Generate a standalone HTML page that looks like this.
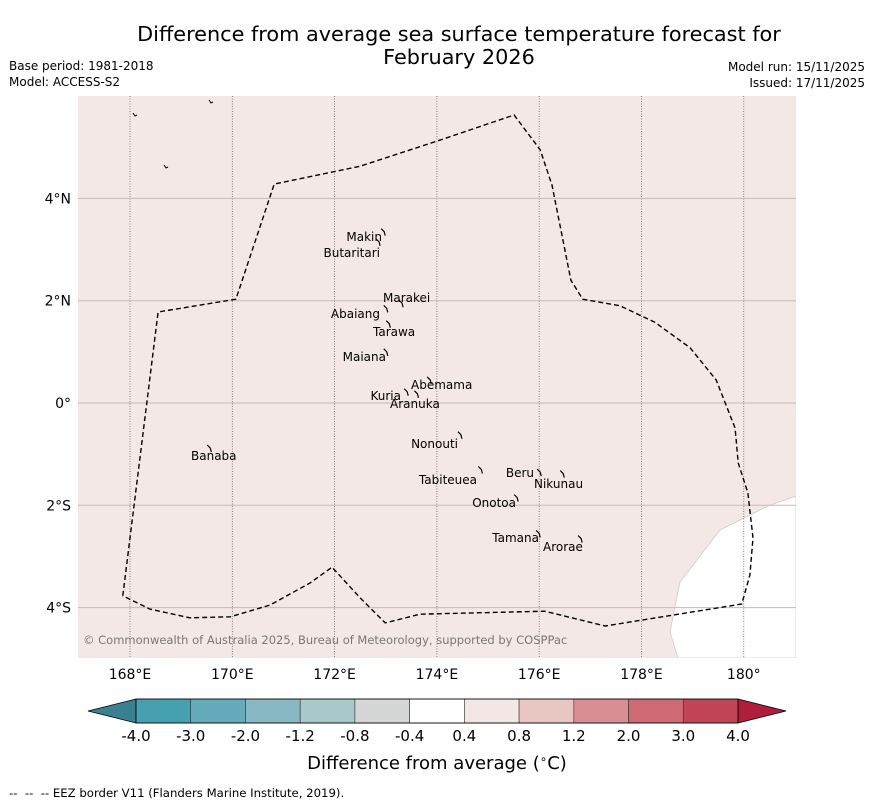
<!DOCTYPE html>
<html><head><meta charset="utf-8"><style>
body{margin:0;background:#fff;font-family:"DejaVu Sans","Liberation Sans",sans-serif}
svg text{font-family:"DejaVu Sans","Liberation Sans",sans-serif}
</style></head><body>
<svg id="c" width="873" height="804" xmlns="http://www.w3.org/2000/svg">
<text x="459" y="41" font-size="20.8" text-anchor="middle">Difference from average sea surface temperature forecast for</text>
<text x="459" y="64" font-size="20.8" text-anchor="middle">February 2026</text>
<text x="9" y="70" font-size="12">Base period: 1981-2018</text>
<text x="9" y="86" font-size="12">Model: ACCESS-S2</text>
<text x="865" y="71" font-size="12" text-anchor="end">Model run: 15/11/2025</text>
<text x="865" y="87" font-size="12" text-anchor="end">Issued: 17/11/2025</text>
<g id="map"></g>
<g id="cbar"></g>
<text x="437" y="769" font-size="18" text-anchor="middle">Difference from average (<tspan font-size="12" dy="-6">∘</tspan><tspan dy="6">C)</tspan></text>
<text x="9" y="797" font-size="11.7" xml:space="preserve">--  --  -- EEZ border V11 (Flanders Marine Institute, 2019).</text>
</svg>
<script>
const lonTicks=[168,170,172,174,176,178,180];
const lonLabels=["168°E","170°E","172°E","174°E","176°E","178°E","180°"];
const latTicks=[4,2,0,-2,-4];
const latLabels=["4°N","2°N","0°","2°S","4°S"];
const eezLon=[167.86,168.55,170.07,170.82,172.50,174.06,175.51,176.02,176.25,176.62,176.85,177.58,178.26,178.95,179.46,179.83,179.89,180.08,180.18,180.12,179.96,177.29,176.11,173.67,172.99,172.50,171.95,171.52,170.74,169.96,169.17,168.39,167.86];
const eezLat=[-3.77,1.78,2.03,4.28,4.63,5.14,5.63,4.95,4.26,2.40,2.03,1.90,1.58,1.08,0.45,-0.49,-1.17,-1.76,-2.64,-3.36,-3.93,-4.36,-4.07,-4.13,-4.30,-3.81,-3.21,-3.52,-3.95,-4.18,-4.20,-4.03,-3.77];
const cbLevels=["-4.0","-3.0","-2.0","-1.2","-0.8","-0.4","0.4","0.8","1.2","2.0","3.0","4.0"];
const cbColors=["#45a0b0","#66abb9","#88b8c4","#a8c8cc","#d5d7d6","#ffffff","#f5e6e6","#e8c6c2","#d88e94","#cd6a73","#c24555"];
const islandNames=["Makin","Butaritari","Marakei","Abaiang","Tarawa","Maiana","Abemama","Kuria","Aranuka","Nonouti","Banaba","Beru","Nikunau","Tabiteuea","Onotoa","Tamana","Arorae"];
const islandLon=[172.95,172.85,173.30,173.00,173.05,173.00,173.85,173.40,173.60,174.45,169.55,176.00,176.45,174.85,175.55,175.98,176.80];
const islandLat=[3.35,3.15,1.95,1.85,1.55,1.00,0.45,0.22,0.18,-0.62,-0.88,-1.35,-1.38,-1.30,-1.85,-2.55,-2.65];
const labX=[382,380,383,380,373,386,411,401,390,458,191,534,534,477,516,539,543];
const labY=[237,253,298,314,332,357,385,396,404,444,456,473,484,480,503,538,547];
const labAnchor=["end","end","start","end","start","end","start","end","start","end","start","end","start","end","end","end","start"];
const NS="http://www.w3.org/2000/svg";
const X0=78,X1=796,Y0=96,Y1=658;
const x=lon=>130+(lon-168)*51.15, y=lat=>403-lat*51.15;
function el(t,a,p){const e=document.createElementNS(NS,t);for(const k in a)e.setAttribute(k,a[k]);p.appendChild(e);return e;}
const map=document.getElementById('map');
const defs=el('defs',{},map);const cp=el('clipPath',{id:'clip'},defs);el('rect',{x:X0,y:Y0,width:X1-X0,height:Y1-Y0},cp);
const bg=el('rect',{x:X0,y:Y0,width:X1-X0,height:Y1-Y0,fill:'#f4e8e7'},map);


const g=el('g',{'clip-path':'url(#clip)'},map);
const wp=el('path',{d:'M796,496 L768,506 L720,530 L680,582 L670,632 L678,658 L796,658 Z',fill:'#fff',stroke:'#d9c9c8','stroke-width':0.8},g);


lonTicks.forEach((v,i)=>{
 const l=el('line',{x1:x(v),x2:x(v),y1:Y0,y2:Y1,stroke:'#555','stroke-width':0.7,'stroke-dasharray':'1,1.5'},g);
 
 
 const t=el('text',{x:x(v),y:679,'font-size':14,'text-anchor':'middle'},map);t.textContent=lonLabels[i];
 
 
});
latTicks.forEach((v,i)=>{
 const l=el('line',{x1:X0,x2:X1,y1:y(v),y2:y(v),stroke:'#c9b8b8','stroke-width':1},g);
 
 
 const t=el('text',{x:71,y:y(v)+5,'font-size':14,'text-anchor':'end'},map);t.textContent=latLabels[i];
 
 
});
const eez=el('path',{d:eezLon.map((v,i)=>(i?'L':'M')+x(v).toFixed(1)+','+y(eezLat[i]).toFixed(1)).join(' '),fill:'none',stroke:'#000','stroke-width':1.4,'stroke-dasharray':'5,3'},g);


islandNames.forEach((n,i)=>{
 const ix=x(islandLon[i]),iy=y(islandLat[i]);
 const s=el('path',{d:`M${ix-2},${iy-3} L${ix+1},${iy} L${ix+2},${iy+4}`,fill:'none',stroke:'#000','stroke-width':1.2},g);
 
 
 const t=el('text',{x:labX[i],y:labY[i]+4,'font-size':12,'text-anchor':labAnchor[i]},g);t.textContent=n;
 
 
});
[[135,115],[166,167],[211,102]].forEach(p=>{const s=el('path',{d:`M${p[0]-2},${p[1]-2} l2,3 l2,-1`,fill:'none',stroke:'#000','stroke-width':1},g);
 
 });
const cr=el('text',{x:83,y:644,'font-size':11.5,fill:'#777'},g);cr.textContent='© Commonwealth of Australia 2025, Bureau of Meteorology, supported by COSPPac';


const cb=document.getElementById('cbar');
const CX0=136,CX1=738,CY=699,CH=24,w=(CX1-CX0)/cbColors.length;
const lt=el('polygon',{points:`${CX0},${CY} ${88},${CY+CH/2} ${CX0},${CY+CH}`,fill:'#3b8090',stroke:'#000','stroke-width':0.8},cb);


const rt=el('polygon',{points:`${CX1},${CY} ${786},${CY+CH/2} ${CX1},${CY+CH}`,fill:'#b01e3c',stroke:'#000','stroke-width':0.8},cb);


cbColors.forEach((c,i)=>{const r=el('rect',{x:CX0+i*w,y:CY,width:w,height:CH,fill:c,stroke:'#333','stroke-width':0.6},cb);
 
 });
el('rect',{x:CX0,y:CY,width:CX1-CX0,height:CH,fill:'none',stroke:'#000','stroke-width':0.8},cb);
cbLevels.forEach((v,i)=>{const t=el('text',{x:CX0+i*w,y:741,'font-size':15,'text-anchor':'middle'},cb);t.textContent=v;
 
 });
</script>
</body></html>
